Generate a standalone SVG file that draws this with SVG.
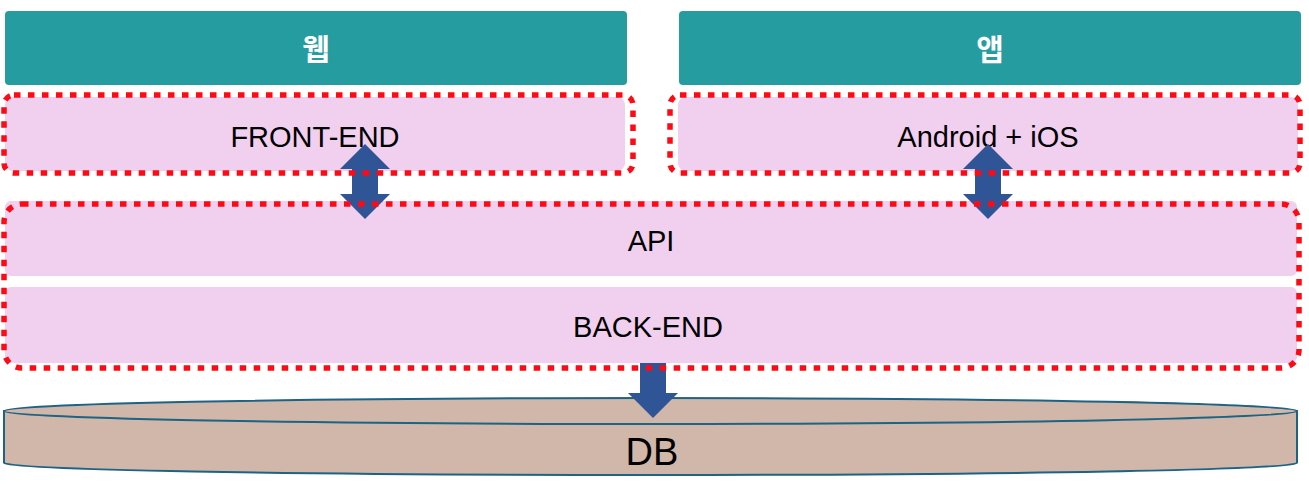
<svg xmlns="http://www.w3.org/2000/svg" width="1309" height="487" viewBox="0 0 1309 487">
<style>
.head{fill:#259C9F}
.pink{fill:#F1CFEE}
.dot{fill:none;stroke:#FF0A14;stroke-width:5.5;stroke-dasharray:6.5 7.5}
.lbl{font-family:"Liberation Sans","Noto Sans",sans-serif;font-size:29px;fill:#000;text-anchor:middle}
.kr{font-family:"Noto Sans CJK KR",sans-serif;font-size:30px;font-weight:bold;fill:#fff;text-anchor:middle}
.arr{fill:#2F5597}
.db{fill:#D1B7A9;stroke:#1D6385;stroke-width:2}
</style>
<rect width="1309" height="487" fill="#fff"/>
<g id="web">
<rect class="head" x="5" y="11" width="622" height="74" rx="4"/>
<text class="kr" x="316" y="60">웹</text>
</g>
<g id="app">
<rect class="head" x="679" y="11" width="622" height="74" rx="4"/>
<text class="kr" x="990" y="60">앱</text>
</g>
<g id="db">
<path class="db" d="M4,411 L4,463 A646.5,12 0 0 0 1297,463 L1297,411 Z"/>
<ellipse class="db" cx="650.5" cy="411" rx="646.5" ry="13"/>
<text class="lbl" x="652" y="465" style="font-size:38px">DB</text>
</g>
<g id="connectors">
<polygon class="arr" points="653,338 678,363 666,363 666,393 678,393 653,418 628,393 640,393 640,363 628,363"/>
</g>
<g id="frontend">
<rect class="pink" x="5" y="97" width="620" height="74" rx="8"/>
<text class="lbl" x="315" y="147">FRONT-END</text>
</g>
<g id="mobile">
<rect class="pink" x="678" y="97" width="620" height="74" rx="8"/>
<text class="lbl" x="988" y="147">Android + iOS</text>
</g>
<g id="api">
<rect class="pink" x="5" y="201" width="1292" height="75" rx="6"/>
<text class="lbl" x="651" y="251">API</text>
</g>
<g id="backend">
<rect class="pink" x="5" y="287" width="1292" height="76" rx="6"/>
<text class="lbl" x="648" y="337">BACK-END</text>
</g>
<g id="connectors2">
<polygon class="arr" points="365,144 390,169 378,169 378,194 390,194 365,219 340,194 352,194 352,169 340,169"/>
<polygon class="arr" points="988,144 1013,169 1001,169 1001,194 1013,194 988,219 963,194 975,194 975,169 963,169"/>
</g>
<g id="borders">
<rect class="dot" x="4" y="95" width="629" height="78" rx="10"/>
<rect class="dot" x="670" y="95" width="630" height="78" rx="10"/>
<rect class="dot" x="4" y="204" width="1295" height="164" rx="18"/>
</g>
</svg>
